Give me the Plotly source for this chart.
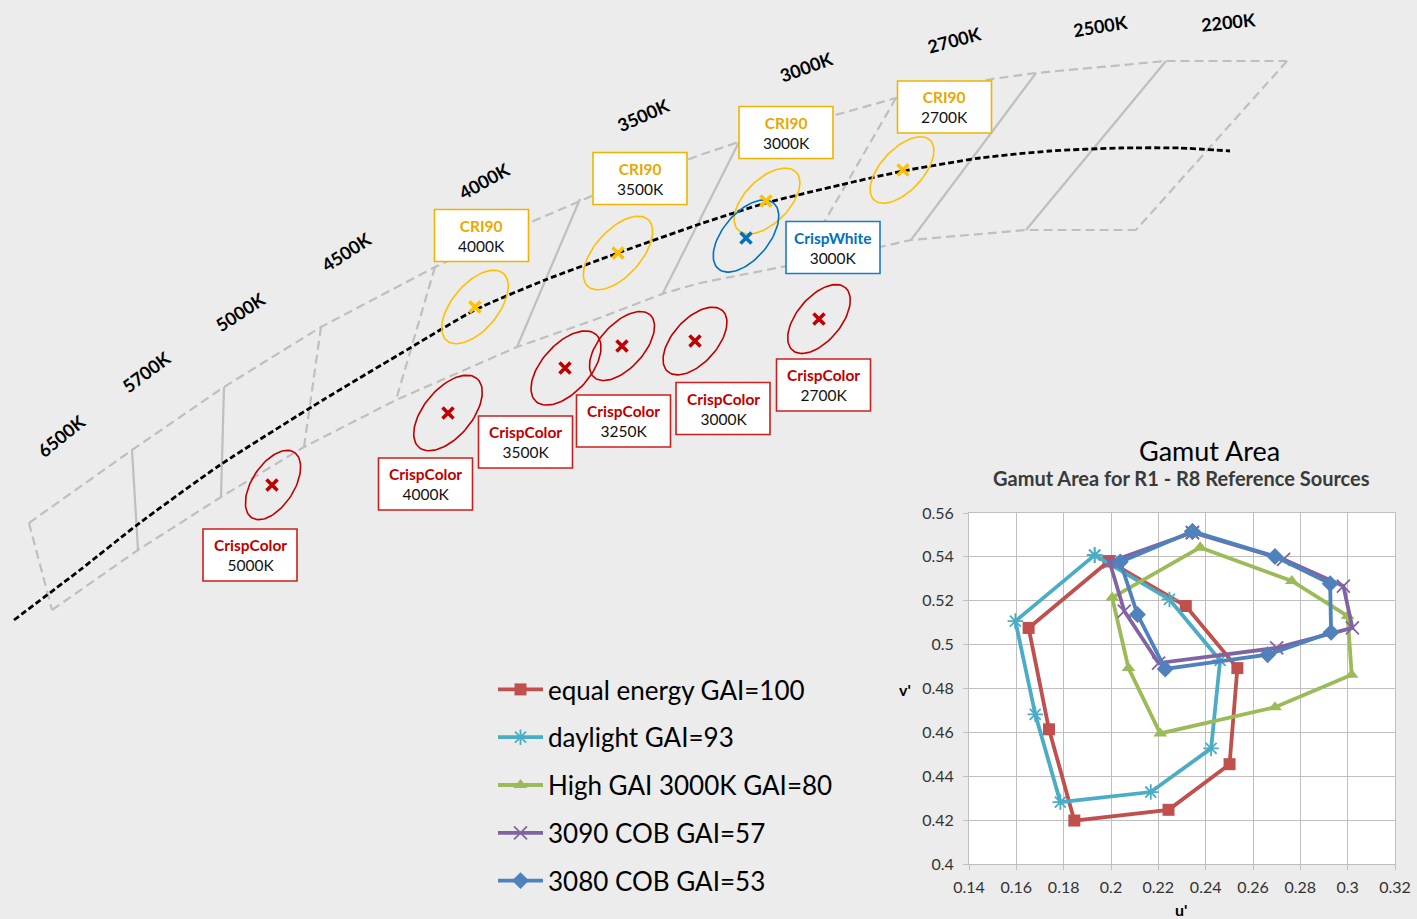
import numpy as np
import plotly.graph_objects as go

W, H = 1417, 919
BG = "#ebeceb"
FONT = "Lato"

# ---------------- Gamut Area data (u', v') ----------------
SERIES_NAMES = ["equal energy GAI=100", "daylight GAI=93", "High GAI 3000K GAI=80",
                "3090 COB GAI=57", "3080 COB GAI=53"]
EE_U = [0.199, 0.2316, 0.2534, 0.2501, 0.2243, 0.1845, 0.1738, 0.1652, 0.199]
EE_V = [0.538, 0.5176, 0.4893, 0.4455, 0.4247, 0.4198, 0.4614, 0.5076, 0.538]
DL_U = [0.1931, 0.2247, 0.2461, 0.2423, 0.2168, 0.1786, 0.168, 0.1596, 0.1931]
DL_V = [0.5408, 0.5206, 0.4928, 0.4527, 0.4328, 0.4282, 0.4682, 0.5107, 0.5408]
HG_U = [0.2377, 0.2764, 0.300, 0.3017, 0.2693, 0.2208, 0.2074, 0.2005, 0.2377]
HG_V = [0.5443, 0.529, 0.513, 0.4863, 0.4715, 0.4595, 0.4893, 0.5214, 0.5443]
C90_U = [0.2344, 0.2729, 0.2982, 0.302, 0.27, 0.2201, 0.2056, 0.1994, 0.2344]
C90_V = [0.5511, 0.5389, 0.5267, 0.5076, 0.4985, 0.4916, 0.5153, 0.5377, 0.5511]
C80_U = [0.2344, 0.2693, 0.2926, 0.293, 0.2662, 0.2229, 0.2112, 0.2039, 0.2344]
C80_V = [0.5516, 0.5402, 0.5278, 0.5056, 0.4954, 0.4889, 0.5137, 0.5377, 0.5516]
SERIES_U = [EE_U, DL_U, HG_U, C90_U, C80_U]
SERIES_V = [EE_V, DL_V, HG_V, C90_V, C80_V]
SERIES_COLORS = ["#C0504D", "#4BACC6", "#9BBB59", "#8064A2", "#4F81BD"]
SERIES_SYMBOLS = ["square", "asterisk-open", "triangle-up", "x-thin-open", "diamond"]
SERIES_SIZES = [12, 13, 12, 13, 13]
U_TICKS = [0.14, 0.16, 0.18, 0.2, 0.22, 0.24, 0.26, 0.28, 0.3, 0.32]
V_TICKS = [0.4, 0.42, 0.44, 0.46, 0.48, 0.5, 0.52, 0.54, 0.56]

# ---------------- Chromaticity diagram (drawing space, px) ----------------
LOCUS_X = [14, 80, 137, 220, 323, 400, 475, 545, 618, 700, 766, 840, 903, 980, 1050, 1120, 1180, 1230]
LOCUS_Y = [620, 570, 525, 465, 400, 354, 310, 280, 253, 224, 203, 185, 171, 158, 151, 148, 148, 151]
TOP_X = [29, 132, 224, 321, 435, 529, 594, 700, 739, 837, 896, 992, 1036, 1166, 1287]
TOP_Y = [523, 450, 387, 327, 267, 223, 195, 155, 142, 115, 98, 79, 73, 61, 61]
BOT_X = [52, 138, 221, 304, 396, 517, 594, 665, 700, 787, 880, 911, 1026, 1136]
BOT_Y = [610, 550, 497, 447, 400, 347, 320, 293, 283, 266, 247, 240, 230, 230]
DIV_X0 = [29, 132, 224, 321, 435, 580, 739, 896, 1036, 1166, 1287]
DIV_Y0 = [523, 450, 387, 327, 267, 199, 142, 98, 73, 61, 61]
DIV_X1 = [52, 138, 221, 304, 396, 517, 662, 800, 911, 1026, 1136]
DIV_Y1 = [610, 550, 497, 447, 400, 347, 295, 264, 240, 230, 230]
DIV_DASHED = [True, False, False, True, True, False, False, True, False, False, True]

CCT_LABELS = ["6500K", "5700K", "5000K", "4500K", "4000K", "3500K", "3000K", "2700K", "2500K", "2200K"]
CCT_X = [61, 146, 240, 346, 484, 643, 806, 954, 1100, 1228]
CCT_Y = [436, 372, 312, 252, 181, 115, 67, 40, 26, 22]
CCT_ANGLE = [-39, -37, -33, -33, -29, -24, -20, -15, -9, -6]

PT_TITLE = ["CrispColor", "CrispColor", "CrispColor", "CrispColor", "CrispColor", "CrispColor",
            "CRI90", "CRI90", "CRI90", "CRI90", "CrispWhite"]
PT_CCT = ["5000K", "4000K", "3500K", "3250K", "3000K", "2700K",
          "4000K", "3500K", "3000K", "2700K", "3000K"]
PT_KIND = ["red"] * 6 + ["yellow"] * 4 + ["blue"]
PT_X = [272, 448, 565, 622, 695, 819, 475, 618, 766, 903, 746]
PT_Y = [485, 413, 368, 346, 341, 319, 307, 253, 201, 170, 238]
ELL_CX = [273, 448, 566, 622, 695, 819, 475, 618, 767, 902, 746]
ELL_CY = [485, 413, 368, 346, 341, 319, 307, 253, 201, 170, 236]
ELL_A = [39, 45, 45, 42, 41, 41, 44, 45, 41, 41, 43]
ELL_B = [21, 24, 24, 22, 22, 22, 23, 23, 22, 21, 23]
ELL_ANG = [57, 50, 48, 48, 48, 50, 50, 48, 45, 47, 50]
BOX_CX = [250, 425.5, 525.5, 623.5, 723, 823.5, 481.5, 640, 786, 944.5, 833]
BOX_CY = [555, 484, 442, 421, 408.5, 385, 235.5, 178.5, 132.5, 107, 247.5]
BOX_W, BOX_H = 94, 52

KIND_MARK = {"red": "#C00000", "yellow": "#FFC000", "blue": "#0070C0"}
KIND_TEXT = {"red": "#C00000", "yellow": "#E8A800", "blue": "#0070C0"}
KIND_BORDER = {"red": "#CC1F1F", "yellow": "#F0B400", "blue": "#1A7CC4"}

GRAY = "#BFBFBF"

fig = go.Figure()

for i, name in enumerate(SERIES_NAMES):
    sym = SERIES_SYMBOLS[i]
    open_sym = sym.endswith("open")
    fig.add_trace(go.Scatter(
        x=SERIES_U[i], y=SERIES_V[i], mode="lines+markers", name=name,
        legendgroup=f"g{i}",
        line=dict(color=SERIES_COLORS[i], width=3.8),
        marker=dict(symbol=sym, size=SERIES_SIZES[i], color=SERIES_COLORS[i],
                    line=dict(color=SERIES_COLORS[i], width=1.8 if open_sym else 0)),
        xaxis="x", yaxis="y", hoverinfo="skip"))

fig.add_trace(go.Scatter(x=TOP_X, y=TOP_Y, mode="lines", xaxis="x2", yaxis="y2",
                         line=dict(color=GRAY, width=2.2, dash="9px,5px"), showlegend=False, hoverinfo="skip"))
fig.add_trace(go.Scatter(x=BOT_X, y=BOT_Y, mode="lines", xaxis="x2", yaxis="y2",
                         line=dict(color=GRAY, width=2.2, dash="9px,5px"), showlegend=False, hoverinfo="skip"))
for x0, y0, x1, y1, dsh in zip(DIV_X0, DIV_Y0, DIV_X1, DIV_Y1, DIV_DASHED):
    fig.add_trace(go.Scatter(x=[x0, x1], y=[y0, y1], mode="lines", xaxis="x2", yaxis="y2",
                             line=dict(color=GRAY, width=2.2, dash="9px,5px" if dsh else "solid"),
                             showlegend=False, hoverinfo="skip"))

fig.add_trace(go.Scatter(x=LOCUS_X, y=LOCUS_Y, mode="lines", xaxis="x2", yaxis="y2",
                         line=dict(color="#000000", width=2.8, dash="6px,3px", shape="spline", smoothing=0.6),
                         showlegend=False, hoverinfo="skip"))

t = np.linspace(0, 2 * np.pi, 90)
for i in range(len(PT_X)):
    col = KIND_MARK[PT_KIND[i]]
    th = np.radians(ELL_ANG[i])
    ex = ELL_CX[i] + ELL_A[i] * np.cos(t) * np.cos(th) - ELL_B[i] * np.sin(t) * np.sin(th)
    ey = ELL_CY[i] - (ELL_A[i] * np.cos(t) * np.sin(th) + ELL_B[i] * np.sin(t) * np.cos(th))
    fig.add_trace(go.Scatter(x=ex, y=ey, mode="lines", xaxis="x2", yaxis="y2",
                             line=dict(color=col, width=1.6), showlegend=False, hoverinfo="skip"))
for kind in ["red", "yellow", "blue"]:
    xs = [PT_X[i] for i in range(len(PT_X)) if PT_KIND[i] == kind]
    ys = [PT_Y[i] for i in range(len(PT_X)) if PT_KIND[i] == kind]
    fig.add_trace(go.Scatter(x=xs, y=ys, mode="markers", xaxis="x2", yaxis="y2",
                             marker=dict(symbol="x-thin", size=11,
                                         line=dict(color=KIND_MARK[kind], width=3.6)),
                             showlegend=False, hoverinfo="skip"))

shapes = []
annotations = []
for i in range(len(PT_X)):
    kind = PT_KIND[i]
    shapes.append(dict(type="rect", xref="x2", yref="y2",
                       x0=BOX_CX[i] - BOX_W / 2, x1=BOX_CX[i] + BOX_W / 2,
                       y0=BOX_CY[i] - BOX_H / 2, y1=BOX_CY[i] + BOX_H / 2,
                       line=dict(color=KIND_BORDER[kind], width=1.6), fillcolor="white", layer="above"))
    annotations.append(dict(
        xref="x2", yref="y2", x=BOX_CX[i], y=BOX_CY[i], showarrow=False,
        xanchor="center", yanchor="middle",
        text=f"<b><span style='color:{KIND_TEXT[kind]}'>{PT_TITLE[i]}</span></b><br>{PT_CCT[i]}",
        font=dict(family=FONT, size=15.5, color="#111111"), align="center"))

for lab, x, y, ang in zip(CCT_LABELS, CCT_X, CCT_Y, CCT_ANGLE):
    annotations.append(dict(xref="x2", yref="y2", x=x, y=y, text=f"<b>{lab}</b>", showarrow=False,
                            xanchor="center", yanchor="middle",
                            textangle=ang, font=dict(family=FONT, size=18, color="#000000")))

shapes.append(dict(type="rect", xref="x", yref="y", x0=0.14, x1=0.32, y0=0.4, y1=0.56,
                   fillcolor="white", line=dict(width=0), layer="below"))

def paper_text(x, y, text, size, color):
    return dict(xref="paper", yref="paper", x=x / W, y=1 - y / H, text=text, showarrow=False,
                xanchor="center", yanchor="middle", font=dict(family=FONT, size=size, color=color))

annotations.append(paper_text(1209, 450, "Gamut Area", 27, "#000000"))
annotations.append(paper_text(1181, 478, "<b>Gamut Area for R1 - R8 Reference Sources</b>", 20, "#3a3a3a"))
annotations.append(paper_text(905, 689, "<b>v'</b>", 16, "#000000"))
annotations.append(paper_text(1181, 909, "<b>u'</b>", 16, "#000000"))

axis_common = dict(showgrid=True, gridcolor=GRAY, gridwidth=1, showline=True, mirror=True,
                   linecolor=GRAY, linewidth=1, ticks="outside", ticklen=5, tickcolor=GRAY,
                   tickfont=dict(family=FONT, size=16, color="#333333"), zeroline=False,
                   fixedrange=True, automargin=False)

fig.update_layout(
    width=W, height=H,
    margin=dict(l=0, r=0, t=0, b=0, pad=0, autoexpand=False),
    paper_bgcolor=BG, plot_bgcolor="rgba(0,0,0,0)",
    xaxis=dict(domain=[969 / W, 1395 / W], range=[0.14, 0.32], tickvals=U_TICKS,
               anchor="y", ticklabelstandoff=4, **axis_common),
    yaxis=dict(domain=[(H - 864) / H, (H - 513) / H], range=[0.4, 0.56], tickvals=V_TICKS,
               anchor="x", ticklabelstandoff=6, **axis_common),
    xaxis2=dict(domain=[0, 1], range=[0, W], visible=False, anchor="y2", fixedrange=True, automargin=False),
    yaxis2=dict(domain=[0, 1], range=[H, 0], visible=False, anchor="x2", fixedrange=True, automargin=False),
    shapes=shapes, annotations=annotations,
    showlegend=True,
    legend=dict(x=493 / W, y=1 - 666 / H, xanchor="left", yanchor="top",
                bgcolor="rgba(0,0,0,0)", font=dict(family=FONT, size=26, color="#000000"),
                tracegroupgap=11, itemwidth=45, traceorder="grouped"),
)

fig.write_html("out.html", config={"displayModeBar": False},
               post_script="document.body.style.margin='0';document.body.style.overflow='hidden';")
